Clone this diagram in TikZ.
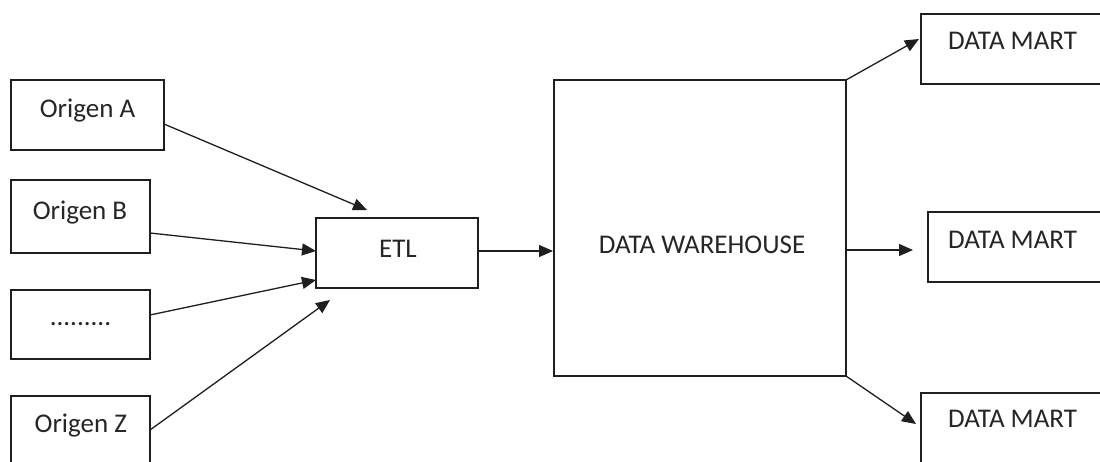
\documentclass[tikz,border=0pt]{standalone}
\usepackage{fontspec}
\setmainfont{Carlito}
\usetikzlibrary{arrows.meta}
\begin{document}
\begin{tikzpicture}[x=1pt,y=-1pt,
  box/.style={draw=black!88,line width=1.3pt,inner sep=0pt,outer sep=0pt},
  lbl/.style={inner sep=0pt,font=\fontsize{27}{32}\selectfont,text=black!85},
  flow/.style={draw=black!88,line width=1.3pt,-{Triangle[length=14pt,width=12pt]}}]
\useasboundingbox (0,0) rectangle (1100,461);
\clip (0,0) rectangle (1100,461);
\fill[white] (0,0) rectangle (1100,461);

% source systems
\node[box,minimum width=153pt,minimum height=70pt] (a) at (87.5,115) {};
\node[box,minimum width=139pt,minimum height=73pt] (b) at (80.5,216.5) {};
\node[box,minimum width=139pt,minimum height=69pt] (d) at (80.5,324.5) {};
\node[box,minimum width=139pt,minimum height=70pt] (z) at (80.5,431) {};
\node[lbl,anchor=base] (a-t) at (87.5,117) {Origen A};
\node[lbl,anchor=base] (b-t) at (80,219) {Origen B};
\node[lbl,anchor=base] (d-t) at (80.5,325) {.........};
\node[lbl,anchor=base] (z-t) at (80.8,432) {Origen Z};

% extraction stage and warehouse
\node[box,minimum width=162pt,minimum height=70pt] (etl) at (397,253) {};
\node[lbl,anchor=base] (etl-t) at (398,257) {ETL};
\node[box,minimum width=292pt,minimum height=296pt] (dw) at (700,228) {};
\node[lbl,anchor=base] (dw-t) at (702,253) {DATA WAREHOUSE};

% data marts
\node[box,minimum width=200pt,minimum height=70pt] (m1) at (1021,49) {};
\node[box,minimum width=200pt,minimum height=70pt] (m2) at (1028,247) {};
\node[box,minimum width=200pt,minimum height=70pt] (m3) at (1021,428) {};
\node[lbl,anchor=base west] (m1-t) at (948,49) {DATA MART};
\node[lbl,anchor=base west] (m2-t) at (948,248) {DATA MART};
\node[lbl,anchor=base west] (m3-t) at (948,427) {DATA MART};

% connector end points
\coordinate (a-o) at (164,124);
\coordinate (a-i) at (367,210);
\coordinate (b-o) at (150,233);
\coordinate (b-i) at (316,251);
\coordinate (d-o) at (150,315);
\coordinate (d-i) at (316,280);
\coordinate (z-o) at (150,430);
\coordinate (z-i) at (330,300);
\coordinate (etl-o) at (478,251);
\coordinate (dw-i) at (553,251);
\coordinate (dw-o2) at (846,250);
\coordinate (m1-i) at (919,39);
\coordinate (m2-i) at (913,250);
\coordinate (m3-i) at (916,424);

\draw[flow] (a-o) -- (a-i);
\draw[flow] (b-o) -- (b-i);
\draw[flow] (d-o) -- (d-i);
\draw[flow] (z-o) -- (z-i);
\draw[flow] (etl-o) -- (dw-i);
\draw[flow] (dw.north east) -- (m1-i);
\draw[flow] (dw-o2) -- (m2-i);
\draw[flow] (dw.south east) -- (m3-i);
\end{tikzpicture}
\end{document}
